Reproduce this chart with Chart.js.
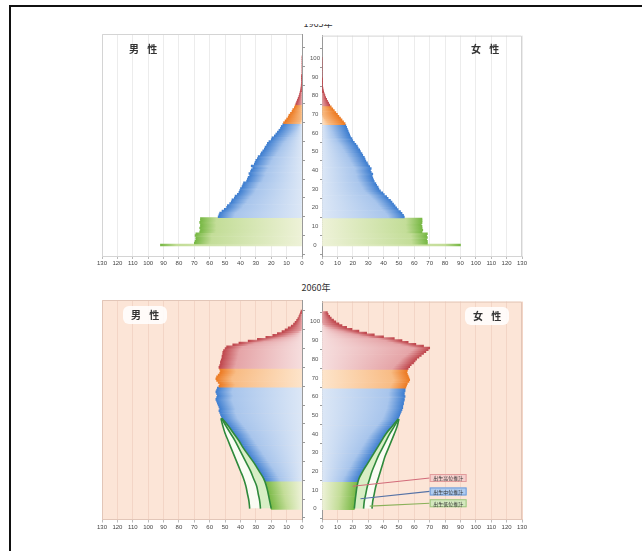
<!DOCTYPE html>
<html lang="ja">
<head>
<meta charset="UTF-8">
<title>人口ピラミッド</title>
<script src="https://cdn.jsdelivr.net/npm/chart.js"></script>
<style>
  body { margin: 0; background: #fff; font-family: "Noto Sans CJK JP", sans-serif; }
  #page { position: relative; width: 642px; height: 551px; overflow: hidden; }
  .frame { position: absolute; left: 9px; top: 5px; width: 700px; height: 600px; border-top: 2px solid #111; border-left: 2px solid #111; }
  .panel { position: absolute; }
  .sex { position: absolute; font-size: 10px; font-weight: bold; color: #333; letter-spacing: 3px; line-height: 12px; }
  .sex.boxed { background: rgba(255,255,255,0.85); border-radius: 6px; padding: 3px 5px 3px 8px; }
  .title { position: absolute; font-size: 9px; color: #333; text-align: center; width: 50px; line-height: 11px; }
  .cut { position: absolute; overflow: hidden; }
</style>
</head>
<body>
<div id="page">
  <div class="frame"></div>

  <div class="cut" style="left:293px; top:24px; width:50px; height:5px;">
    <div class="title" style="left:0; top:-6px;">1965年</div>
  </div>
  <div class="title" style="left:291px; top:282px;">2060年</div>

  <div class="panel" style="left:94px; top:31.5px; width:211px; height:240px;"><canvas id="topMale"></canvas></div>
  <div class="panel" style="left:302px; top:31.5px; width:228px; height:240px;"><canvas id="topFemale"></canvas></div>
  <div class="panel" style="left:94px; top:297.5px; width:211px; height:237.5px;"><canvas id="botMale"></canvas></div>
  <div class="panel" style="left:302px; top:297.5px; width:228px; height:237.5px;"><canvas id="botFemale"></canvas></div>

  <div class="sex" style="left:129px; top:43px;">男 性</div>
  <div class="sex" style="left:471px; top:43px;">女 性</div>
  <div class="sex boxed" style="left:123px; top:306px;">男 性</div>
  <div class="sex boxed" style="left:465px; top:307px;">女 性</div>
</div>

<script>
// 年齢別人口（index = 年齢）
const maleTop = [92,
  70, 69.5, 69, 69, 69.5, 69,
  66.5, 66, 66.5, 66, 66, 66.5, 66, 66,
  54.5, 54, 53.5, 52, 50.5, 49, 48.5, 47, 46, 45.5,
  44, 43.5, 42, 41, 40.5, 40, 39, 38.5, 38, 36,
  35.5, 35, 34, 34.5, 33.5, 33, 32, 33, 31, 30.5,
  30, 29, 28.5, 27, 26.5, 25.5, 24.5, 24, 23, 22.5,
  21.5, 20, 19.5, 18, 17, 16, 15, 14, 13.5, 12.5,
  12, 11, 10, 9, 8.5, 7.5, 6.5, 6, 5, 4.5,
  4, 3.5, 3, 2.5, 2, 1.6, 1.3, 1, 0.8, 0.6,
  0.5, 0.4, 0.3, 0.2, 0.1, 0.1, 0, 0, 0, 0,
  0, 0, 0, 0, 0, 0];

const femaleTop = [90,
  68.5, 68.5, 68, 68.5, 68, 68.5,
  65, 65.5, 65, 65, 64.5, 65, 65, 65,
  53.5, 53, 52, 51, 49.5, 48.5, 47.5, 46.5, 45.5, 44.5,
  43, 42, 40.5, 39.5, 38, 37, 36.5, 35.5, 35, 34,
  33.5, 33, 32.5, 33, 32, 31.5, 32, 31, 30, 29.5,
  28.5, 28, 27.5, 26.5, 26, 25, 24.5, 23.5, 23, 22,
  21, 20, 19.5, 18.5, 18, 17.5, 17, 16.5, 16, 15.5,
  15, 14, 13, 12, 11, 10, 9, 8, 7, 6,
  5, 4.3, 3.6, 3, 2.4, 1.9, 1.5, 1.1, 0.8, 0.6,
  0.4, 0.3, 0.2, 0.1, 0.1, 0, 0, 0, 0, 0,
  0, 0, 0, 0, 0, 0];

const male2060 = [
  20, 20, 20.3, 20.6, 21, 21.2, 21.5, 21.8, 22, 22.3, 22.6, 22.8, 23.2, 23.5, 23.8,
  24.5, 25, 25.5, 26.5, 27, 28, 28.5, 29.5, 30.5, 31,
  32, 33, 33.5, 34.5, 35.5, 36, 37, 38, 38.5, 39.5,
  40.5, 41, 42, 43, 43.5, 44.5, 45.5, 46, 47, 48,
  49, 50, 51, 52, 52.5, 53, 53.5, 54, 53.5, 54,
  54.5, 55, 55.5, 56, 55.5, 55, 55.5, 56, 55.5, 55,
  54, 53.5, 54.5, 55.5, 56, 55.5, 54.5, 53.5, 53, 53.5,
  54, 53.5, 53, 53, 52.5, 52, 52, 51.5, 51.5, 51,
  50, 49, 45, 41, 35, 29, 23.5, 19, 16, 13,
  11, 9, 7, 5.5, 4.5, 3.5, 2.7, 2, 1.5, 1, 0.6];

const female2060 = [
  21, 21, 21.2, 21.3, 21.5, 21.6, 21.8, 22, 22.1, 22.3, 22.5, 22.6, 22.8, 23, 23.2,
  23.5, 24, 24.5, 25.5, 26, 26.5, 27.5, 28, 29, 29.5,
  30, 31, 31.5, 32.5, 33, 34, 34.5, 35.5, 36, 37,
  37.5, 38.5, 39, 40, 40.5, 41.5, 42.5, 43.5, 44.5, 45.5,
  46.5, 47.5, 48.5, 49.5, 50, 50.5, 51, 51.5, 52, 52.5,
  52.5, 53, 53, 53.5, 53.5, 54, 53.5, 53.5, 54, 54,
  54.5, 55, 55.5, 56.5, 57, 56.5, 56, 55.5, 55, 55.5,
  56, 57, 58, 59.5, 60.5, 61.5, 63, 64.5, 66, 67.5,
  69, 70, 66, 61, 56, 52, 47, 40, 34, 29,
  24, 19.5, 16, 13, 11, 9, 7.5, 6, 5, 4, 3.5];

// 出生仮定別の推計線（2060年, 0～48歳）
const stripeAges = [0, 4, 8, 12, 16, 20, 24, 28, 32, 36, 40, 44, 48];
const maleMid = [27, 27.5, 28.5, 29.5, 31.5, 33.5, 36, 38.5, 41, 43.5, 46.5, 49.5, 52.3];
const maleHigh = [34, 34.5, 35.5, 36.5, 38, 40, 42, 44, 46, 48, 50, 51.5, 52.7];
const femaleMid = [27, 27.5, 28.5, 29.5, 31, 32.5, 34.5, 36.5, 39, 41.5, 44, 47, 49.8];
const femaleHigh = [32.5, 33, 34, 35, 36.5, 38, 39.5, 41, 43, 45, 47, 48.8, 50];

const xTicks = [0, 10, 20, 30, 40, 50, 60, 70, 80, 90, 100, 110, 120, 130];
const yTicks = [0, 10, 20, 30, 40, 50, 60, 70, 80, 90, 100];

const groupColors = {
  green:  ['#eef2d8', '#c3dd98', '#77b844'],
  blue:   ['#dce7f6', '#a8c5ec', '#3e7ed0'],
  orange: ['#fde4ca', '#f8bc85', '#ec7a22'],
  red:    ['#f6dede', '#e5a4a7', '#bf464c']
};
function groupOf(age) {
  if (age < 15) return 'green';
  if (age < 65) return 'blue';
  if (age < 75) return 'orange';
  return 'red';
}
function barFill(ctx) {
  const chart = ctx.chart;
  const raw = ctx.raw;
  if (!raw || !chart.chartArea) return '#a8c5ec';
  const c = groupColors[groupOf(raw.y)];
  const xs = chart.scales.x;
  const x0 = xs.getPixelForValue(0), x1 = xs.getPixelForValue(raw.x);
  const len = Math.abs(x1 - x0);
  if (len < 2) return c[2];
  const g = chart.ctx.createLinearGradient(x0, 0, x1, 0);
  g.addColorStop(0, c[0]);
  g.addColorStop(Math.max(0, 1 - 16 / len), c[1]);
  g.addColorStop(1, c[2]);
  return g;
}

const panelPlugin = {
  id: 'panel',
  beforeDraw(chart, args, o) {
    if (!o.bg) return;
    const {left, top, width, height} = chart.chartArea;
    const c = chart.ctx;
    c.save();
    c.fillStyle = o.bg;
    c.fillRect(left, top, width, height);
    c.restore();
  },
  afterDraw(chart, args, o) {
    const {left, right, top, bottom} = chart.chartArea;
    const c = chart.ctx;
    c.save();
    c.strokeStyle = o.frame;
    c.lineWidth = 1;
    c.beginPath();
    const outer = o.side === 'left' ? left + 0.5 : right - 0.5;
    c.moveTo(outer, bottom);
    c.lineTo(outer, top + 0.5);
    c.lineTo(o.side === 'left' ? right : left, top + 0.5);
    c.stroke();
    c.restore();
  }
};

// 凡例ボックスと引出線
const keyPlugin = {
  id: 'variantKey',
  afterDatasetsDraw(chart, args, o) {
    if (!o.items) return;
    const xs = chart.scales.x, ys = chart.scales.y, c = chart.ctx;
    const bx0 = xs.getPixelForValue(o.from), bx1 = xs.getPixelForValue(o.to);
    c.save();
    o.items.forEach(it => {
      const yc = ys.getPixelForValue(it.age);
      c.strokeStyle = it.line;
      c.lineWidth = 1.2;
      c.beginPath();
      c.moveTo(bx0, yc);
      c.lineTo(xs.getPixelForValue(it.target[0]), ys.getPixelForValue(it.target[1]));
      c.stroke();
      c.fillStyle = it.fill;
      c.strokeStyle = it.stroke;
      c.lineWidth = 1;
      c.fillRect(bx0, yc - 4, bx1 - bx0, 8);
      c.strokeRect(bx0 + 0.5, yc - 3.5, bx1 - bx0 - 1, 7);
      c.fillStyle = '#333';
      c.font = '5px "Noto Sans CJK JP"';
      c.textAlign = 'center';
      c.textBaseline = 'middle';
      c.fillText(it.text, (bx0 + bx1) / 2, yc + 0.5);
    });
    c.restore();
  }
};

function buildPyramid(id, side, values, yMax, extra) {
  const left = side === 'left';
  const datasets = [{
    type: 'bar',
    data: values.map((v, age) => ({x: v, y: age})),
    backgroundColor: barFill,
    borderWidth: 0,
    barPercentage: 1,
    categoryPercentage: 1,
    order: 3
  }];
  if (extra.stripes) {
    const s = extra.stripes;
    const line = (vals, fill, bg) => ({
      type: 'line',
      indexAxis: 'y',
      data: stripeAges.map((a, i) => ({x: vals[i], y: a})),
      borderColor: '#2f8a3c',
      borderWidth: 1.6,
      pointRadius: 0,
      tension: 0.4,
      fill: fill,
      backgroundColor: bg,
      order: 1
    });
    datasets.push(line(stripeAges.map(a => values[a]), false, 'transparent'));
    datasets.push(line(s.mid, 1, 'rgba(214,238,196,0.95)'));
    datasets.push(line(s.high, 2, 'rgba(250,253,246,0.95)'));
  }
  return new Chart(document.getElementById(id), {
    type: 'bar',
    data: {datasets},
    options: {
      indexAxis: 'y',
      responsive: true,
      maintainAspectRatio: false,
      animation: false,
      events: [],
      layout: {padding: left ? {left: 8, top: 2, right: 0, bottom: 0} : {left: 0, top: 2, right: 8, bottom: 0}},
      plugins: {
        legend: {display: false},
        tooltip: {enabled: false},
        panel: {bg: extra.bg, frame: extra.frame, side},
        variantKey: extra.key || {}
      },
      scales: {
        x: {
          type: 'linear',
          min: 0,
          max: 130,
          reverse: left,
          afterBuildTicks: a => { a.ticks = xTicks.map(v => ({value: v})); },
          afterFit: a => { a.height = 16; },
          grid: {color: extra.grid, tickLength: 3, tickColor: '#bbb'},
          border: {color: extra.frame},
          ticks: {color: '#444', font: {size: 6, family: 'Liberation Sans'}, padding: 1, maxRotation: 0}
        },
        y: {
          type: 'linear',
          min: -0.5,
          max: yMax,
          position: left ? 'right' : 'left',
          afterBuildTicks: a => { a.ticks = yTicks.map(v => ({value: v})); },
          afterFit: a => { a.width = left ? 3 : 20; },
          grid: {drawOnChartArea: false, tickLength: left ? 3 : 2, color: '#999'},
          border: {color: '#999'},
          ticks: {display: !left, color: '#555', crossAlign: 'center', padding: 0, font: {size: 6, family: 'Liberation Sans'}}
        }
      }
    },
    plugins: [panelPlugin, keyPlugin]
  });
}

const topStyle = {grid: '#ececec', frame: '#d4d4d4'};
const botStyle = {grid: '#f3d5c6', frame: '#e2c6b8', bg: '#fce5d7'};

buildPyramid('topMale', 'left', maleTop, 106.75, topStyle);
buildPyramid('topFemale', 'right', femaleTop, 106.75, topStyle);
buildPyramid('botMale', 'left', male2060, 105.5,
  Object.assign({stripes: {mid: maleMid, high: maleHigh}}, botStyle));
buildPyramid('botFemale', 'right', female2060, 105.5,
  Object.assign({
    stripes: {mid: femaleMid, high: femaleHigh},
    key: {
      from: 70, to: 94,
      items: [
        {text: '出生高位推計', age: 16.4, fill: '#f5cfcc', stroke: '#e39c9c', line: '#d26b79', target: [20, 12]},
        {text: '出生中位推計', age: 9.2, fill: '#aecbef', stroke: '#6e9bd8', line: '#5572a6', target: [25, 5.3]},
        {text: '出生低位推計', age: 2.9, fill: '#d3e8be', stroke: '#9fc67e', line: '#8ab15a', target: [31, 1.4]}
      ]
    }
  }, botStyle));
</script>
</body>
</html>
